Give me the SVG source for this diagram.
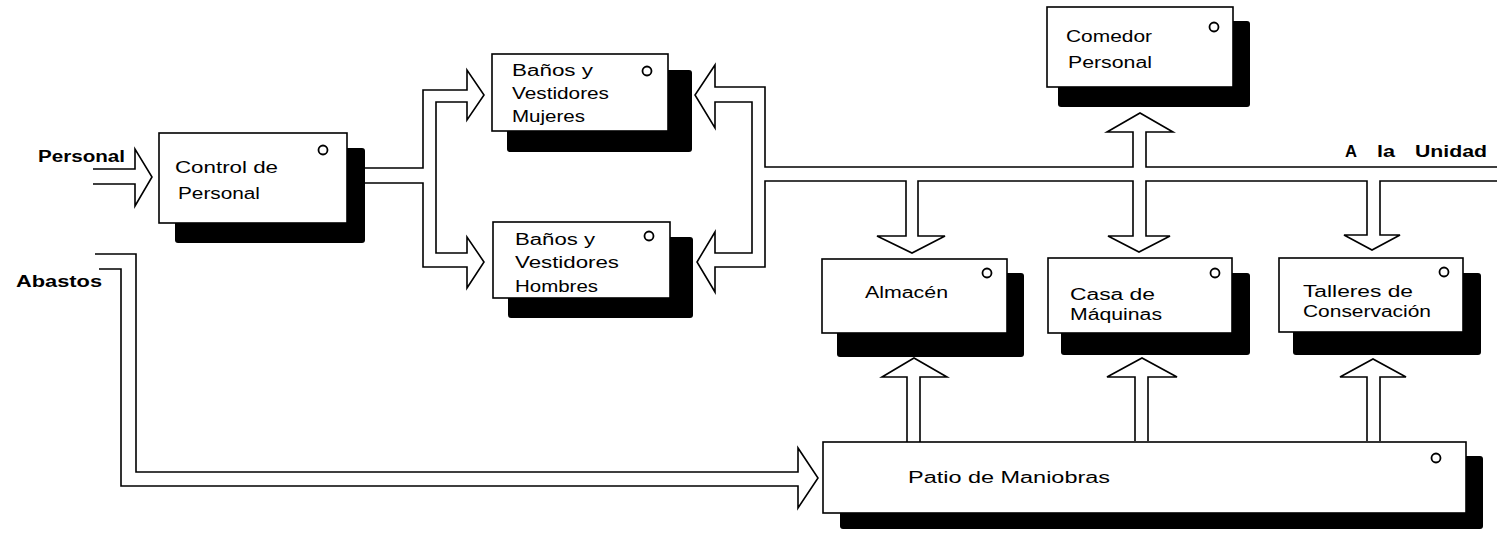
<svg xmlns="http://www.w3.org/2000/svg" width="1497" height="533" viewBox="0 0 1497 533">
<style>
.box{fill:#fff;stroke:#000;stroke-width:1.6}
.sh{fill:#000}
.dot{fill:#fff;stroke:#000;stroke-width:1.8}
.t{font-family:"Liberation Sans",Arial,sans-serif;font-size:16px;fill:#000}
.b{font-family:"Liberation Sans",Arial,sans-serif;font-size:16px;font-weight:bold;fill:#000}
.c{fill:none;stroke:#000;stroke-width:1.6;stroke-linejoin:miter}
</style>
<rect width="1497" height="533" fill="#fff"/>
<g id="connectors">
<path class="c" d="M93,169 H135 V149 L152,177 L135,206 V184 H93"/>
<path class="c" d="M365,168 H423 V90 H467 V70 L484,95 L467,120 V102 H436 V253 H467 V237 L484,262 L467,288 V267 H423 V183 H365"/>
<path class="c" d="M1497,167 H1146 V132 H1173 L1140,113 L1107,132 H1133 V167 H765 V87 H715 V65 L695,95 L715,128 V102 H752 V253 H715 V232 L697,262 L715,292 V267 H765 V181 H906 V236 H877 L912,253 L945,236 H918 V181 H1133 V236 H1108 L1139,252 L1170,236 H1146 V181 H1367 V235 H1344 L1372,250 L1400,235 H1380 V181 H1497"/>
<path class="c" d="M95,254 H136 V472 H798 V448 L818,478 L798,508 V486 H121 V269 H99"/>
<path class="c" d="M907,442 V377 H882 L914,358 L947,377 H920 V442"/>
<path class="c" d="M1135,441 V377 H1107 L1142,358 L1177,377 H1148 V441"/>
<path class="c" d="M1367,441 V377 H1340 L1373,359 L1406,377 H1380 V441"/>
</g>
<g id="labels">
<text class="b" x="38" y="162" textLength="87" lengthAdjust="spacingAndGlyphs">Personal</text>
<text class="b" x="16" y="287" textLength="86" lengthAdjust="spacingAndGlyphs">Abastos</text>
<text class="b" y="157"><tspan x="1345" textLength="12" lengthAdjust="spacingAndGlyphs">A</tspan><tspan x="1377" textLength="18" lengthAdjust="spacingAndGlyphs">la</tspan><tspan x="1415" textLength="72" lengthAdjust="spacingAndGlyphs">Unidad</tspan></text>
</g>
<g id="control-personal">
<rect class="sh" x="175" y="148" width="190" height="95" rx="3"/>
<rect class="box" x="159" y="133" width="188" height="90"/>
<circle class="dot" cx="323" cy="150" r="4.5"/>
<text class="t" x="175" y="173" textLength="103" lengthAdjust="spacingAndGlyphs">Control de</text>
<text class="t" x="178" y="199" textLength="82" lengthAdjust="spacingAndGlyphs">Personal</text>
</g>
<g id="banos-mujeres">
<rect class="sh" x="507" y="70" width="185" height="82" rx="3"/>
<rect class="box" x="492" y="54" width="176" height="77"/>
<circle class="dot" cx="647" cy="71" r="4.5"/>
<text class="t" x="512" y="76" textLength="81" lengthAdjust="spacingAndGlyphs">Baños y</text>
<text class="t" x="512" y="99" textLength="97" lengthAdjust="spacingAndGlyphs">Vestidores</text>
<text class="t" x="512" y="122" textLength="73" lengthAdjust="spacingAndGlyphs">Mujeres</text>
</g>
<g id="banos-hombres">
<rect class="sh" x="508" y="237" width="185" height="81" rx="3"/>
<rect class="box" x="493" y="222" width="177" height="76"/>
<circle class="dot" cx="649" cy="236" r="4.5"/>
<text class="t" x="515" y="245" textLength="80" lengthAdjust="spacingAndGlyphs">Baños y</text>
<text class="t" x="515" y="268" textLength="104" lengthAdjust="spacingAndGlyphs">Vestidores</text>
<text class="t" x="515" y="292" textLength="83" lengthAdjust="spacingAndGlyphs">Hombres</text>
</g>
<g id="comedor-personal">
<rect class="sh" x="1058" y="21" width="192" height="86" rx="3"/>
<rect class="box" x="1047" y="7" width="186" height="80"/>
<circle class="dot" cx="1214" cy="27" r="4.5"/>
<text class="t" x="1066" y="42" textLength="86" lengthAdjust="spacingAndGlyphs">Comedor</text>
<text class="t" x="1068" y="68" textLength="84" lengthAdjust="spacingAndGlyphs">Personal</text>
</g>
<g id="almacen">
<rect class="sh" x="837" y="273" width="187" height="84" rx="3"/>
<rect class="box" x="822" y="259" width="185" height="74"/>
<circle class="dot" cx="987" cy="273" r="4.5"/>
<text class="t" x="865" y="298" textLength="83" lengthAdjust="spacingAndGlyphs">Almacén</text>
</g>
<g id="casa-maquinas">
<rect class="sh" x="1061" y="273" width="189" height="82" rx="3"/>
<rect class="box" x="1048" y="258" width="184" height="75"/>
<circle class="dot" cx="1215" cy="273" r="4.5"/>
<text class="t" x="1070" y="300" textLength="85" lengthAdjust="spacingAndGlyphs">Casa de</text>
<text class="t" x="1070" y="320" textLength="92" lengthAdjust="spacingAndGlyphs">Máquinas</text>
</g>
<g id="talleres-conservacion">
<rect class="sh" x="1293" y="273" width="188" height="82" rx="3"/>
<rect class="box" x="1279" y="258" width="184" height="74"/>
<circle class="dot" cx="1444" cy="272" r="4.5"/>
<text class="t" x="1303" y="297" textLength="110" lengthAdjust="spacingAndGlyphs">Talleres de</text>
<text class="t" x="1303" y="317" textLength="128" lengthAdjust="spacingAndGlyphs">Conservación</text>
</g>
<g id="patio-maniobras">
<rect class="sh" x="840" y="456" width="643" height="73" rx="3"/>
<rect class="box" x="823" y="442" width="643" height="71"/>
<circle class="dot" cx="1436" cy="458" r="4.5"/>
<text class="t" x="908" y="483" textLength="202" lengthAdjust="spacingAndGlyphs">Patio de Maniobras</text>
</g>
</svg>
